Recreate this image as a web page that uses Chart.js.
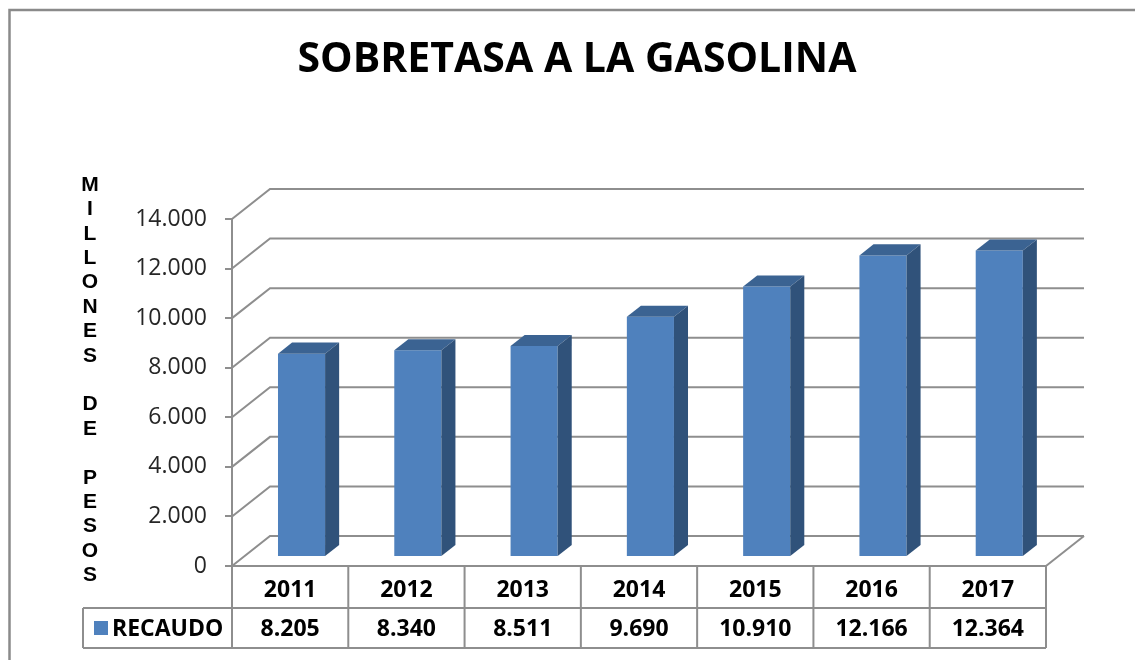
<!DOCTYPE html>
<html><head><meta charset="utf-8">
<script src="https://cdn.jsdelivr.net/npm/chart.js@4.4.0/dist/chart.umd.min.js"></script>
<style>html,body{margin:0;padding:0;background:#fff;overflow:hidden;} #wrap{width:1135px;height:660px;position:relative;}</style>
</head><body><div id="wrap"><canvas id="c" width="1135" height="660"></canvas></div>
<script>
const categories = ['2011','2012','2013','2014','2015','2016','2017'];
const recaudo = [8205, 8340, 8511, 9690, 10910, 12166, 12364];
const seriesName = 'RECAUDO';
const chartTitle = 'SOBRETASA A LA GASOLINA';
const yAxisTitle = 'MILLONES DE PESOS';
const yMin = 0, yMax = 14000, yStep = 2000;

function fmt(v){ return String(Math.round(v)).replace(/\B(?=(\d{3})+(?!\d))/g, '.'); }

const DX = 38, DY = -30;          // depth vector of the 3D wall
const BAR_FRONT = 0.3, BAR_BACK = 0.67;
const GRID = '#8e8e8e';
const FRONT = '#4F81BD', TOP = '#3B6392', SIDE = '#30527A';
const FONT = "'Open Sans', sans-serif";

const threeD = {
  id: 'threeD',
  beforeDatasetsDraw(chart) {
    const {ctx, chartArea: a, scales: {y}} = chart;
    ctx.save();
    ctx.strokeStyle = GRID; ctx.lineWidth = 2;
    y.ticks.forEach(t => {
      const py = y.getPixelForValue(t.value);
      ctx.beginPath();
      ctx.moveTo(a.left, py);
      ctx.lineTo(a.left + DX, py + DY);
      ctx.lineTo(a.right + DX, py + DY);
      ctx.stroke();
    });
    ctx.beginPath();
    ctx.moveTo(a.right, a.bottom);
    ctx.lineTo(a.right + DX, a.bottom + DY);
    ctx.stroke();
    ctx.restore();
    ctx.save();
    ctx.translate(DX * BAR_FRONT, DY * BAR_FRONT);
  },
  afterDatasetsDraw(chart) {
    const {ctx} = chart;
    const meta = chart.getDatasetMeta(0);
    const dx = DX * (BAR_BACK - BAR_FRONT), dy = DY * (BAR_BACK - BAR_FRONT);
    meta.data.forEach(b => {
      const p = b.getProps(['x','y','base','width'], true);
      const l = p.x - p.width / 2, r = p.x + p.width / 2;
      ctx.fillStyle = TOP;
      ctx.beginPath();
      ctx.moveTo(l, p.y); ctx.lineTo(r, p.y); ctx.lineTo(r + dx, p.y + dy); ctx.lineTo(l + dx, p.y + dy);
      ctx.closePath(); ctx.fill();
      ctx.fillStyle = SIDE;
      ctx.beginPath();
      ctx.moveTo(r, p.y); ctx.lineTo(r + dx, p.y + dy); ctx.lineTo(r + dx, p.base + dy); ctx.lineTo(r, p.base);
      ctx.closePath(); ctx.fill();
    });
    ctx.restore();
  },
  afterDraw(chart) {
    const {ctx, chartArea: a, scales: {x}} = chart;
    const n = categories.length;
    const cw = a.width / n;
    const row1 = a.bottom, row2 = a.bottom + 42, row3 = a.bottom + 82;
    const tLeft = 83;
    ctx.save();
    ctx.strokeStyle = GRID; ctx.lineWidth = 2;
    ctx.beginPath();
    for (let i = 0; i <= n; i++) {
      const bx = a.left + i * cw;
      ctx.moveTo(bx, row1); ctx.lineTo(bx, row3);
    }
    ctx.moveTo(tLeft, row2); ctx.lineTo(a.right, row2);
    ctx.moveTo(tLeft, row3); ctx.lineTo(a.right, row3);
    ctx.moveTo(tLeft, row2); ctx.lineTo(tLeft, row3);
    ctx.stroke();
    // legend key
    ctx.fillStyle = FRONT;
    ctx.fillRect(94, row2 + 13, 14, 14);
    ctx.fillStyle = '#000';
    ctx.font = "bold 23px " + FONT;
    ctx.textBaseline = 'middle';
    ctx.textAlign = 'left';
    ctx.fillText(seriesName, 112, (row2 + row3) / 2 + 1);
    ctx.textAlign = 'center';
    recaudo.forEach((v, i) => {
      ctx.fillText(fmt(v), x.getPixelForValue(i), (row2 + row3) / 2 + 1);
    });
    // vertical y-axis title
    ctx.font = "bold 21px 'Liberation Sans', Arial, sans-serif";
    ctx.textAlign = 'center';
    const letters = yAxisTitle.split('');
    letters.forEach((ch, i) => {
      if (ch !== ' ') ctx.fillText(ch, 90, 185 + i * 24.4);
    });
    // outer frame
    ctx.strokeStyle = '#8a8a8a'; ctx.lineWidth = 2.5;
    ctx.beginPath();
    ctx.moveTo(9.5, 662); ctx.lineTo(9.5, 10); ctx.lineTo(1140, 10);
    ctx.stroke();
    ctx.restore();
  }
};

new Chart(document.getElementById('c'), {
  type: 'bar',
  data: {
    labels: categories,
    datasets: [{
      label: seriesName,
      data: recaudo,
      backgroundColor: FRONT,
      borderWidth: 0,
      categoryPercentage: 1,
      barPercentage: 0.405
    }]
  },
  options: {
    responsive: false,
    animation: false,
    devicePixelRatio: 1,
    layout: { padding: { left: 108, right: 89, top: 0, bottom: 0 } },
    plugins: {
      legend: { display: false },
      tooltip: { enabled: false },
      title: {
        display: true, text: chartTitle, color: '#000',
        font: { family: FONT, weight: 'bold', size: 41, lineHeight: 1.2 },
        padding: { top: 36, bottom: 133.8 }
      }
    },
    scales: {
      x: {
        grid: { display: true, drawOnChartArea: false, drawTicks: false },
        border: { display: true, color: GRID, width: 2 },
        ticks: { color: '#000', font: { family: FONT, weight: 'bold', size: 23 }, padding: 11, maxRotation: 0, autoSkip: false },
        afterFit(s) { s.height = 94; }
      },
      y: {
        min: yMin, max: yMax,
        grid: { display: true, drawOnChartArea: false, drawTicks: true, tickLength: 7, color: GRID, lineWidth: 2 },
        border: { display: true, color: GRID, width: 2 },
        ticks: { stepSize: yStep, color: '#262626', font: { family: FONT, size: 23 }, padding: 18, callback: v => fmt(v) },
        afterFit(s) { s.width = 124; }
      }
    }
  },
  plugins: [threeD]
});
</script>
</body></html>
